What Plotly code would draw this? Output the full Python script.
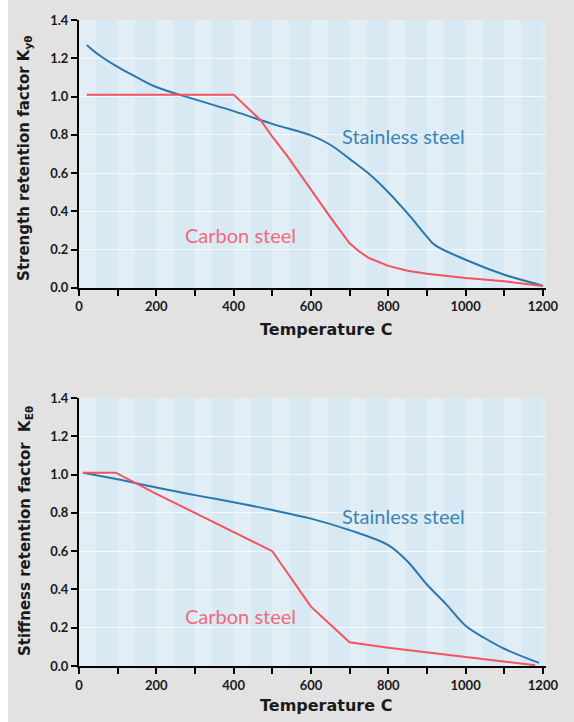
import plotly.graph_objects as go

# ---------------- data ----------------
# Top chart: strength retention factor
t_str_stainless = [20, 50, 100, 150, 200, 300, 400, 500, 600, 650, 700, 750, 800, 850, 900, 920, 1000, 1100, 1200]
k_str_stainless = [1.27, 1.22, 1.155, 1.10, 1.05, 0.985, 0.924, 0.857, 0.797, 0.748, 0.674, 0.596, 0.50, 0.389, 0.268, 0.225, 0.147, 0.069, 0.012]

t_str_carbon = [20, 400, 470, 500, 540, 600, 650, 700, 725, 750, 800, 850, 900, 1000, 1100, 1200]
k_str_carbon = [1.01, 1.01, 0.876, 0.79, 0.686, 0.51, 0.37, 0.233, 0.19, 0.156, 0.115, 0.09, 0.074, 0.052, 0.035, 0.01]

# Bottom chart: stiffness retention factor
t_stf_stainless = [10, 100, 200, 300, 400, 500, 600, 700, 800, 850, 900, 950, 1000, 1050, 1100, 1190]
k_stf_stainless = [1.01, 0.976, 0.933, 0.893, 0.856, 0.815, 0.77, 0.71, 0.632, 0.546, 0.426, 0.322, 0.21, 0.145, 0.09, 0.016]

t_stf_carbon = [10, 95, 200, 300, 400, 500, 600, 700, 800, 900, 1000, 1100, 1180]
k_stf_carbon = [1.01, 1.01, 0.90, 0.80, 0.70, 0.60, 0.31, 0.124, 0.095, 0.072, 0.046, 0.024, 0.004]

x_major_ticks = [0, 200, 400, 600, 800, 1000, 1200]
y_ticks = [0.0, 0.2, 0.4, 0.6, 0.8, 1.0, 1.2, 1.4]
band_edges = list(range(0, 1300, 100))

# ---------------- styling ----------------
BLUE = "#2a78ae"
RED = "#f4535e"
BLUE_TXT = "#3a85b5"
RED_TXT = "#f2697a"
FONT = "Lato"
TITLE_FONT = "DejaVu Sans"
X_MAX = 1208

fig = go.Figure()

def line(x, y, color, xa, ya, shape):
    fig.add_trace(go.Scatter(
        x=x, y=y, mode="lines", xaxis=xa, yaxis=ya,
        line=dict(color=color, width=2, shape=shape, smoothing=1.0),
        showlegend=False, hoverinfo="skip"))

line(t_str_stainless, k_str_stainless, BLUE, "x", "y", "spline")
line(t_str_carbon, k_str_carbon, RED, "x", "y", "linear")
line(t_stf_stainless, k_stf_stainless, BLUE, "x2", "y2", "spline")
line(t_stf_carbon, k_stf_carbon, RED, "x2", "y2", "linear")

def xaxis_style(domain, anchor):
    return dict(
        domain=domain, anchor=anchor, range=[0, X_MAX],
        tickmode="array", tickvals=x_major_ticks,
        ticktext=[str(v) for v in x_major_ticks],
        showline=True, linecolor="black", linewidth=2,
        ticks="outside", ticklen=6, tickwidth=2, tickcolor="black",
        minor=dict(dtick=100, tick0=0, ticks="outside", ticklen=6,
                   tickwidth=2, tickcolor="black", showgrid=False),
        tickfont=dict(family=FONT, size=13, color="#1a1a1a", weight="bold"),
        showgrid=False, zeroline=False, fixedrange=True)

def yaxis_style(domain, anchor):
    return dict(
        domain=domain, anchor=anchor, range=[0, 1.4],
        tickmode="array", tickvals=y_ticks,
        ticktext=[f"{v:.1f}" for v in y_ticks],
        showline=True, linecolor="black", linewidth=2,
        ticks="outside", ticklen=6, tickwidth=2, tickcolor="black",
        tickfont=dict(family=FONT, size=13, color="#1a1a1a", weight="bold"),
        showgrid=True, gridcolor="rgba(255,255,255,0.7)", gridwidth=1,
        zeroline=False, fixedrange=True)

top_dom = [0.5853, 1.0]
bot_dom = [0.0, 0.4147]

# background stripes (decorative), built from band edges
shapes = []
for xr, yr in (("x", "y"), ("x2", "y2")):
    for left in band_edges[:-1]:
        right = min(left + 100, X_MAX)
        mid = min(left + 45, X_MAX)
        shapes.append(dict(type="rect", xref=xr, yref=f"{yr} domain",
                           x0=left, x1=mid, y0=0, y1=1, layer="below",
                           line=dict(width=0), fillcolor="#e2eef6"))
        shapes.append(dict(type="rect", xref=xr, yref=f"{yr} domain",
                           x0=mid, x1=right, y0=0, y1=1, layer="below",
                           line=dict(width=0), fillcolor="#d8e9f4"))

def ann(text, x, y, xref, yref, color, size, family=FONT, bold=False, angle=0):
    return dict(text=text, x=x, y=y, xref=xref, yref=yref, showarrow=False,
                xanchor="center", yanchor="middle", textangle=angle,
                font=dict(family=family, size=size, color=color,
                          weight="bold" if bold else "normal"))

# page px -> paper coords: x=(px-79)/467, y=(666-py)/651
def px(x):
    return (x - 79) / 467

def py(y):
    return (666 - y) / 651

annotations = [
    ann("Stainless steel", 840, 0.795, "x", "y", BLUE_TXT, 20),
    ann("Carbon steel", 418, 0.276, "x", "y", RED_TXT, 20),
    ann("Stainless steel", 840, 0.784, "x2", "y2", BLUE_TXT, 20),
    ann("Carbon steel", 419, 0.262, "x2", "y2", RED_TXT, 20),
    ann("Temperature C", px(326), py(327), "paper", "paper", "#1a1a1a", 16, TITLE_FONT, bold=True),
    ann("Temperature C", px(326), py(706), "paper", "paper", "#1a1a1a", 16, TITLE_FONT, bold=True),
    ann("Strength retention factor K<sub>yθ</sub>", px(25), py(155),
        "paper", "paper", "#1a1a1a", 15, TITLE_FONT, bold=True, angle=-90),
    ann("Stiffness retention factor  K<sub>Eθ</sub>", px(25), py(530),
        "paper", "paper", "#1a1a1a", 15, TITLE_FONT, bold=True, angle=-90),
]

fig.update_layout(
    width=566, height=722,
    margin=dict(l=71, r=28, t=15, b=56),
    paper_bgcolor="#e2e2e2",
    plot_bgcolor="#dbebf5",
    xaxis=xaxis_style([0, 1], "y"),
    yaxis=yaxis_style(top_dom, "x"),
    xaxis2=xaxis_style([0, 1], "y2"),
    yaxis2=yaxis_style(bot_dom, "x2"),
    shapes=shapes,
    annotations=annotations,
    showlegend=False,
)

fig.write_html(
    "out.html",
    post_script="document.body.style.margin='0 0 0 8px';document.body.style.background='#ffffff';",
)
